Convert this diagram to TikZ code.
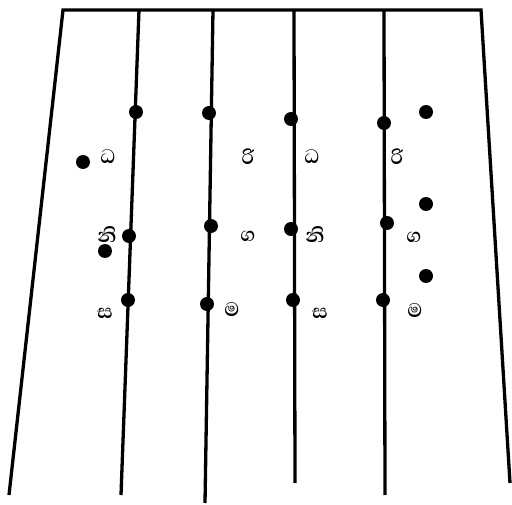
\documentclass[tikz,border=0pt]{standalone}
\usepackage{fontspec}
\newfontfamily\sinhala[Script=Sinhala]{Abhaya Libre}
\usetikzlibrary{positioning}

\begin{document}
\begin{tikzpicture}[
    x=1pt, y=1pt,
    dot/.style={circle, fill=black, inner sep=0pt, minimum size=14pt},
    swara/.style={font=\sinhala\bfseries\fontsize{25}{27}\selectfont, inner sep=0pt},
    string/.style={line width=3.3pt, line cap=butt}
  ]
    \useasboundingbox (0,0) rectangle (512,504);

    % frame and strings
    \coordinate (tl) at (63,494);
    \coordinate (tr) at (481,494);
    \coordinate (bl) at (9,9);
    \coordinate (br) at (510,21);
    \coordinate (s1top) at (139,494);  \coordinate (s1bot) at (121,9);
    \coordinate (s2top) at (213,494);  \coordinate (s2bot) at (205,1);
    \coordinate (s3top) at (294,494);  \coordinate (s3bot) at (295,21);
    \coordinate (s4top) at (384,494);  \coordinate (s4bot) at (385,9);

    \draw[string] (bl) -- (tl) -- (tr) -- (br);
    \draw[string] (s1top) -- (s1bot);
    \draw[string] (s2top) -- (s2bot);
    \draw[string] (s3top) -- (s3bot);
    \draw[string] (s4top) -- (s4bot);

    % dots
    \node[dot] (d1a) at (136,392) {};
    \node[dot] (d1b) at (129,268) {};
    \node[dot] (d1c) at (128,204) {};
    \node[dot] (d2a) at (209,391) {};
    \node[dot] (d2b) at (211,278) {};
    \node[dot] (d2c) at (207,200) {};
    \node[dot] (d3a) at (291,385) {};
    \node[dot] (d3b) at (291,275) {};
    \node[dot] (d3c) at (293,204) {};
    \node[dot] (d4a) at (384,381) {};
    \node[dot] (d4b) at (387,281) {};
    \node[dot] (d4c) at (383,204) {};
    \node[dot] (e1) at (83,342) {};
    \node[dot] (e2) at (105,253) {};
    \node[dot] (e3) at (426,392) {};
    \node[dot] (e4) at (426,300) {};
    \node[dot] (e5) at (426,228) {};

    % labels
    \node[swara] (dha1) at (108,347) {ධ};
    \node[swara] (ri1) at (248,347) {රි};
    \node[swara] (ni1) at (107,269) {නි};
    \node[swara] (ga1) at (248,268) {ග};
    \node[swara] (sa1) at (105,191) {ස};
    \node[swara] (ma1) at (232,194) {ම};
    \node[swara] (dha2) at (312,347) {ධ};
    \node[swara] (ri2) at (397,347) {රි};
    \node[swara] (ni2) at (315,269) {නි};
    \node[swara] (ga2) at (414,267) {ග};
    \node[swara] (sa2) at (320,191) {ස};
    \node[swara] (ma2) at (415,193) {ම};
\end{tikzpicture}
\end{document}
